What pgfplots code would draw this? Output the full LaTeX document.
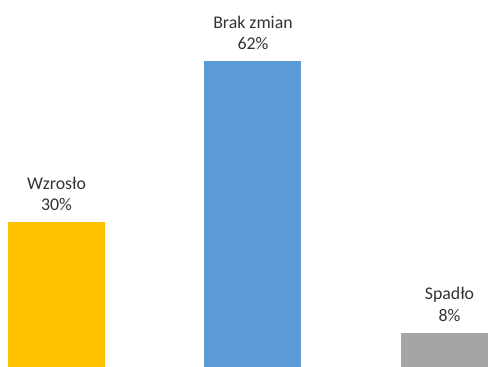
\documentclass[border=0pt]{standalone}
\usepackage{pgfplots}
\pgfplotsset{compat=1.18}
\usepackage{fontspec}
\setmainfont{Carlito}
\definecolor{cyel}{HTML}{FFC000}
\definecolor{cblue}{HTML}{5B9BD5}
\definecolor{cgray}{HTML}{A5A5A5}
\begin{document}
\begin{tikzpicture}
\begin{axis}[
  width=488pt, height=367pt, scale only axis,
  hide axis,
  xmin=-0.2875, xmax=2.196,
  ymin=1.19, ymax=74.15,
  ybar, bar width=0.4936, bar shift=0pt,
  nodes near coords style={font=\fontsize{17.8}{21.7}\selectfont, align=center, inner sep=0pt, anchor=south, yshift=11pt, text=black!80},
]
\addplot[fill=cyel, draw=none, nodes near coords={Wzrosło\\30\%}] coordinates {(0,30)};
\addplot[fill=cblue, draw=none, nodes near coords={Brak zmian\\62\%}] coordinates {(1,62)};
\addplot[fill=cgray, draw=none, nodes near coords={Spadło\\8\%}] coordinates {(2,8)};
\end{axis}
\pgfresetboundingbox
\path[use as bounding box] (current axis.south west) rectangle (current axis.north east);
\end{tikzpicture}
\end{document}
